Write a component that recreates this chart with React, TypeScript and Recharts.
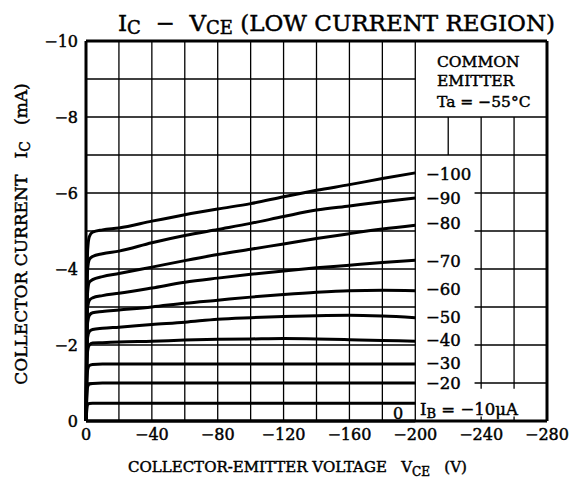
import { Line, LineChart, ReferenceLine, XAxis, YAxis } from "recharts"

// collector-emitter voltage (V) where each curve was read
const vce = [0, -0.5, -1, -2, -4, -10, -20, -40, -60, -80, -100, -120, -140, -160, -180, -200]

// collector current (mA) for each base current step
const ib0 = [0, 0, 0, 0, 0, 0, 0, 0, 0, 0, 0, 0, 0, 0, 0, 0]
const ib10 = [0, 0.3, 0.43, 0.46, 0.47, 0.47, 0.47, 0.47, 0.47, 0.47, 0.47, 0.47, 0.47, 0.47, 0.47, 0.47]
const ib20 = [0, 0.6, 0.9, 0.97, 0.99, 1.0, 1.0, 1.0, 1.0, 1.0, 1.0, 1.0, 1.0, 1.0, 1.0, 1.0]
const ib30 = [0, 0.9, 1.35, 1.46, 1.49, 1.5, 1.5, 1.5, 1.5, 1.5, 1.5, 1.5, 1.5, 1.5, 1.5, 1.5]
const ib40 = [0, 1.3, 1.85, 2.0, 2.05, 2.06, 2.08, 2.1, 2.13, 2.15, 2.16, 2.17, 2.16, 2.14, 2.12, 2.1]
const ib50 = [0, 1.5, 2.2, 2.35, 2.41, 2.44, 2.47, 2.54, 2.6, 2.68, 2.72, 2.75, 2.77, 2.78, 2.76, 2.72]
const ib60 = [0, 1.8, 2.6, 2.78, 2.85, 2.88, 2.92, 3.0, 3.1, 3.18, 3.26, 3.33, 3.39, 3.43, 3.44, 3.43]
const ib70 = [0, 2.1, 3.0, 3.17, 3.24, 3.3, 3.36, 3.5, 3.65, 3.76, 3.86, 3.95, 4.03, 4.1, 4.17, 4.23]
const ib80 = [0, 2.4, 3.4, 3.65, 3.72, 3.8, 3.88, 4.05, 4.22, 4.38, 4.52, 4.66, 4.8, 4.93, 5.05, 5.15]
const ib90 = [0, 2.8, 4.0, 4.25, 4.33, 4.4, 4.47, 4.69, 4.88, 5.04, 5.2, 5.38, 5.55, 5.66, 5.77, 5.87]
const ib100 = [0, 3.0, 4.5, 4.85, 4.97, 5.03, 5.08, 5.26, 5.43, 5.58, 5.72, 5.9, 6.07, 6.22, 6.38, 6.53]

const curves = [
  { key: "ib0", values: ib0 },
  { key: "ib10", values: ib10 },
  { key: "ib20", values: ib20 },
  { key: "ib30", values: ib30 },
  { key: "ib40", values: ib40 },
  { key: "ib50", values: ib50 },
  { key: "ib60", values: ib60 },
  { key: "ib70", values: ib70 },
  { key: "ib80", values: ib80 },
  { key: "ib90", values: ib90 },
  { key: "ib100", values: ib100 },
]

const curveLabels = ["−100", "−90", "−80", "−70", "−60", "−50", "−40", "−30", "−20"]

const xTicks = [0, -40, -80, -120, -160, -200, -240, -280]
const yTicks = [0, -2, -4, -6, -8, -10]
const xGrid = [-20, -40, -60, -80, -100, -120, -140, -160, -180, -200]
const yGrid = [-1, -2, -3, -4, -5, -6, -7, -8, -9]

// grid pieces right of -200 V (the rest is covered by the note boxes)
const gridPieces = [
  [[-220, -8], [-220, -7]],
  [[-240, -8], [-240, -0.85]],
  [[-260, -8], [-260, -0.85]],
  [[-240, 0], [-240, -0.12]],
  [[-260, 0], [-260, -0.12]],
  [[-200, -8], [-280, -8]],
  [[-200, -7], [-280, -7]],
  [[-236, -6], [-280, -6]],
  [[-236, -5], [-280, -5]],
  [[-236, -4], [-280, -4]],
  [[-236, -3], [-280, -3]],
  [[-236, -2], [-280, -2]],
  [[-236, -1], [-280, -1]],
]

const data = vce.map((v, i) => {
  const row: Record<string, number> = { vce: v }
  curves.forEach((c) => {
    row[c.key] = -c.values[i]
  })
  return row
})

const font = "'DejaVu Serif', serif"
const fmt = (v: number) => (v === 0 ? "0" : `−${Math.abs(v)}`)
const tickStyle = { fill: "#000", stroke: "#000", strokeWidth: 0.45, fontFamily: font, fontSize: 16 }

export default function App() {
  return (
    <div style={{ position: "relative", width: 579, height: 488, background: "#fff" }}>
      <style>{`body{margin:0}`}</style>
      <LineChart width={579} height={488} data={data} margin={{ top: 41, right: 32, bottom: 0, left: 0 }}>
        <XAxis
          dataKey="vce"
          type="number"
          domain={[-280, 0]}
          reversed
          ticks={xTicks}
          tickFormatter={fmt}
          axisLine={false}
          tickLine={false}
          height={67}
          tick={tickStyle}
        />
        <YAxis
          type="number"
          domain={[-10, 0]}
          reversed
          ticks={yTicks}
          tickFormatter={fmt}
          axisLine={false}
          tickLine={false}
          width={86}
          tick={tickStyle}
        />
        {xGrid.map((x) => (
          <ReferenceLine key={`vx${x}`} x={x} stroke="#000" strokeWidth={1.3} />
        ))}
        {yGrid.map((y) => (
          <ReferenceLine key={`hy${y}`} segment={[{ x: 0, y }, { x: -200, y }]} stroke="#000" strokeWidth={1.3} />
        ))}
        {gridPieces.map((p, i) => (
          <ReferenceLine
            key={`gp${i}`}
            segment={[{ x: p[0][0], y: p[0][1] }, { x: p[1][0], y: p[1][1] }]}
            stroke="#000"
            strokeWidth={1.3}
          />
        ))}
        <ReferenceLine x={0} stroke="#000" strokeWidth={3} />
        <ReferenceLine x={-280} stroke="#000" strokeWidth={3} />
        <ReferenceLine y={0} stroke="#000" strokeWidth={3} />
        <ReferenceLine y={-10} stroke="#000" strokeWidth={3} />
        {curves.map((c) => (
          <Line
            key={c.key}
            dataKey={c.key}
            type="monotone"
            stroke="#000"
            strokeWidth={3}
            dot={false}
            isAnimationActive={false}
          />
        ))}
      </LineChart>
      <svg
        width={579}
        height={488}
        style={{ position: "absolute", left: 0, top: 0, pointerEvents: "none" }}
        fontFamily={font}
        fill="#000"
        stroke="#000"
        strokeWidth={0.45}
      >
        <text x={118} y={31} fontSize={23} xmlSpace="preserve">
          I<tspan fontSize={18} dy={3}>C</tspan>
          <tspan dy={-3}>{"  −  V"}</tspan>
          <tspan fontSize={18} dy={3}>CE</tspan>
          <tspan dy={-3}>{" (LOW CURRENT REGION)"}</tspan>
        </text>
        <text transform="translate(27,234) rotate(-90)" textAnchor="middle" fontSize={17} xmlSpace="preserve">
          {"COLLECTOR CURRENT   I"}
          <tspan fontSize={14} dy={3}>C</tspan>
          <tspan dy={-3}>{"   (mA)"}</tspan>
        </text>
        <text x={128} y={472} fontSize={15} xmlSpace="preserve">
          {"COLLECTOR-EMITTER VOLTAGE   V"}
          <tspan fontSize={12} dy={4}>CE</tspan>
          <tspan dy={-4}>{"   (V)"}</tspan>
        </text>
        <text x={437} y={67} fontSize={15.5}>COMMON</text>
        <text x={437} y={86} fontSize={15.5}>EMITTER</text>
        <text x={437} y={107} fontSize={15.5} xmlSpace="preserve">{"Ta = −55°C"}</text>
        {curveLabels.map((t, i) => (
          <text key={t} x={426} y={[180, 204, 229, 267, 295, 323, 346, 369, 389][i]} fontSize={16.5}>
            {t}
          </text>
        ))}
        <text x={393} y={419} fontSize={16}>0</text>
        <text x={420} y={415} fontSize={16.5} xmlSpace="preserve">
          I<tspan fontSize={13} dy={3}>B</tspan>
          <tspan dy={-3}>{" = −10μA"}</tspan>
        </text>
      </svg>
    </div>
  )
}
